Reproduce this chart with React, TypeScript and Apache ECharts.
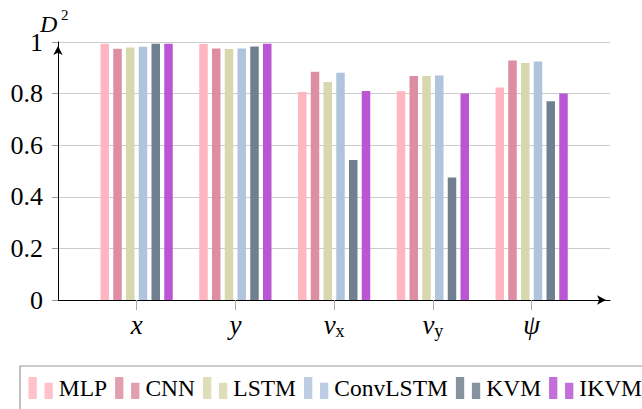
import React, { useEffect, useRef } from "react";
import * as echarts from "echarts";

const categories = ["x", "y", "vx", "vy", "psi"];
const seriesNames = ["MLP", "CNN", "LSTM", "ConvLSTM", "KVM", "IKVM"];
const mlp = [0.993, 0.992, 0.806, 0.809, 0.824];
const cnn = [0.974, 0.975, 0.885, 0.868, 0.928];
const lstm = [0.979, 0.973, 0.845, 0.868, 0.919];
const convlstm = [0.982, 0.975, 0.881, 0.870, 0.924];
const kvm = [0.993, 0.983, 0.543, 0.475, 0.770];
const ikvm = [0.993, 0.993, 0.810, 0.800, 0.800];
const seriesValues = [mlp, cnn, lstm, convlstm, kvm, ikvm];
const colors = ["#ffb6c1", "#dd8ea2", "#d8d8ae", "#b0c4de", "#708090", "#ba55d3"];
const yTicks = [0, 0.2, 0.4, 0.6, 0.8, 1];
const catLabels: Record<string, string> = {
  x: "{i|x}",
  y: "{i|y}",
  vx: "{i|v}{s|x}",
  vy: "{i|v}{s|y}",
  psi: "{i|ψ}",
};

const SERIF = "Liberation Serif";

export default function App() {
  const ref = useRef<HTMLDivElement>(null);
  useEffect(() => {
    document.body.style.margin = "0";
    if (!ref.current) return;
    const chart = echarts.init(ref.current, null, { renderer: "svg" });
    chart.setOption({
      animation: false,
      grid: [
        { left: 58, right: 32, top: 42, bottom: 109 },
        { left: 87.25, right: 61, top: 42, bottom: 109 },
      ],
      xAxis: [
        {
          gridIndex: 0,
          type: "value",
          min: 0,
          max: 1,
          axisLine: {
            show: true,
            lineStyle: { color: "#000", width: 1 },
            symbol: ["none", "arrow"],
            symbolSize: [7, 9],
            symbolOffset: [0, -4],
          },
          axisTick: { show: false },
          axisLabel: { show: false },
          splitLine: { show: false },
        },
        {
          gridIndex: 1,
          type: "category",
          data: categories,
          axisLine: { show: false },
          axisTick: {
            show: true,
            alignWithLabel: true,
            length: 10,
            lineStyle: { color: "#aaa", width: 1 },
          },
          axisLabel: {
            margin: 10,
            formatter: (v: string) => catLabels[v],
            rich: {
              i: { fontFamily: SERIF, fontStyle: "italic", fontSize: 27, lineHeight: 30, color: "#000" },
              s: { fontFamily: SERIF, fontSize: 18, lineHeight: 18, verticalAlign: "bottom", color: "#000" },
            },
          },
          splitLine: { show: false },
        },
      ],
      yAxis: [
        {
          gridIndex: 0,
          type: "value",
          min: 0,
          max: 1,
          interval: 0.2,
          axisLine: {
            show: true,
            lineStyle: { color: "#000", width: 1 },
            symbol: ["none", "arrow"],
            symbolSize: [7, 9],
            symbolOffset: [0, -4],
          },
          axisTick: { show: true, length: 6, lineStyle: { color: "#999" } },
          axisLabel: {
            margin: 15,
            fontFamily: SERIF,
            fontSize: 26,
            color: "#000",
            formatter: (v: number) => {
              const t = yTicks.find((k) => Math.abs(k - v) < 1e-6);
              return t === undefined ? "" : String(t);
            },
          },
          splitLine: { show: true, lineStyle: { color: "#cccccc", width: 1 } },
        },
        {
          gridIndex: 1,
          type: "value",
          min: 0,
          max: 1,
          show: false,
          splitLine: { show: false },
        },
      ],
      legend: {
        left: 20,
        top: 366,
        width: 630,
        padding: [10, 8.5, 10, 8.5],
        itemGap: 8,
        itemWidth: 24.3,
        itemHeight: 22,
        borderColor: "#999",
        borderWidth: 1.2,
        icon: "path://M0 0H8.3V22H0Z M16 5.7H24.3V22H16Z",
        itemStyle: { opacity: 0.85 },
        textStyle: { fontFamily: SERIF, fontSize: 23.5, color: "#000", padding: [0, 0, 0, 1] },
        data: seriesNames,
      },
      graphic: [
        {
          type: "text",
          left: 40,
          top: 12,
          style: { text: "D", fontFamily: SERIF, fontStyle: "italic", fontSize: 24, fill: "#000" },
        },
        {
          type: "text",
          left: 61,
          top: 7,
          style: { text: "2", fontFamily: SERIF, fontSize: 15, fill: "#000" },
        },
      ],
      series: seriesNames.map((name, k) => ({
        name,
        type: "bar",
        xAxisIndex: 1,
        yAxisIndex: 1,
        barWidth: 8.5,
        barGap: "50%",
        data: seriesValues[k],
        itemStyle: { color: colors[k] },
      })),
    });
    return () => chart.dispose();
  }, []);
  return <div ref={ref} style={{ width: 642, height: 409 }} />;
}
